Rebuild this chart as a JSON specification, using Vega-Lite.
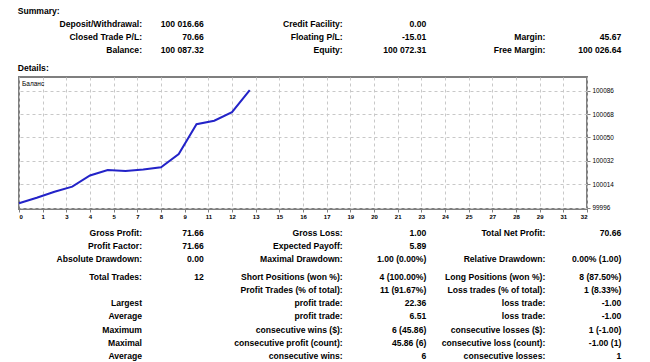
{
  "$schema": "https://vega.github.io/schema/vega-lite/v6.json",
  "padding": {"left": 14, "top": 0, "right": 0, "bottom": 0},
  "background": "white",
  "spacing": 0,
  "bounds": "flush",
  "config": {"view": {"stroke": null}, "font": "Liberation Sans"},
  "resolve": {"scale": {"x": "independent", "y": "independent"}},
  "datasets": {
    "summary": [
      {"row": 0, "col": -1, "text": "Summary:"},
      {"row": 1, "col": 0, "text": "Deposit/Withdrawal:"},
      {"row": 1, "col": 1, "text": "100 016.66"},
      {"row": 1, "col": 2, "text": "Credit Facility:"},
      {"row": 1, "col": 3, "text": "0.00"},
      {"row": 2, "col": 0, "text": "Closed Trade P/L:"},
      {"row": 2, "col": 1, "text": "70.66"},
      {"row": 2, "col": 2, "text": "Floating P/L:"},
      {"row": 2, "col": 3, "text": "-15.01"},
      {"row": 2, "col": 4, "text": "Margin:"},
      {"row": 2, "col": 5, "text": "45.67"},
      {"row": 3, "col": 0, "text": "Balance:"},
      {"row": 3, "col": 1, "text": "100 087.32"},
      {"row": 3, "col": 2, "text": "Equity:"},
      {"row": 3, "col": 3, "text": "100 072.31"},
      {"row": 3, "col": 4, "text": "Free Margin:"},
      {"row": 3, "col": 5, "text": "100 026.64"},
      {"row": 4, "col": -1, "text": "Details:"}
    ],
    "details": [
      {"row": 1, "col": 0, "text": "Gross Profit:"},
      {"row": 1, "col": 1, "text": "71.66"},
      {"row": 1, "col": 2, "text": "Gross Loss:"},
      {"row": 1, "col": 3, "text": "1.00"},
      {"row": 1, "col": 4, "text": "Total Net Profit:"},
      {"row": 1, "col": 5, "text": "70.66"},
      {"row": 2, "col": 0, "text": "Profit Factor:"},
      {"row": 2, "col": 1, "text": "71.66"},
      {"row": 2, "col": 2, "text": "Expected Payoff:"},
      {"row": 2, "col": 3, "text": "5.89"},
      {"row": 3, "col": 0, "text": "Absolute Drawdown:"},
      {"row": 3, "col": 1, "text": "0.00"},
      {"row": 3, "col": 2, "text": "Maximal Drawdown:"},
      {"row": 3, "col": 3, "text": "1.00 (0.00%)"},
      {"row": 3, "col": 4, "text": "Relative Drawdown:"},
      {"row": 3, "col": 5, "text": "0.00% (1.00)"},
      {"row": 4, "col": 0, "text": "Total Trades:"},
      {"row": 4, "col": 1, "text": "12"},
      {"row": 4, "col": 2, "text": "Short Positions (won %):"},
      {"row": 4, "col": 3, "text": "4 (100.00%)"},
      {"row": 4, "col": 4, "text": "Long Positions (won %):"},
      {"row": 4, "col": 5, "text": "8 (87.50%)"},
      {"row": 5, "col": 2, "text": "Profit Trades (% of total):"},
      {"row": 5, "col": 3, "text": "11 (91.67%)"},
      {"row": 5, "col": 4, "text": "Loss trades (% of total):"},
      {"row": 5, "col": 5, "text": "1 (8.33%)"},
      {"row": 6, "col": 0, "text": "Largest"},
      {"row": 6, "col": 2, "text": "profit trade:"},
      {"row": 6, "col": 3, "text": "22.36"},
      {"row": 6, "col": 4, "text": "loss trade:"},
      {"row": 6, "col": 5, "text": "-1.00"},
      {"row": 7, "col": 0, "text": "Average"},
      {"row": 7, "col": 2, "text": "profit trade:"},
      {"row": 7, "col": 3, "text": "6.51"},
      {"row": 7, "col": 4, "text": "loss trade:"},
      {"row": 7, "col": 5, "text": "-1.00"},
      {"row": 8, "col": 0, "text": "Maximum"},
      {"row": 8, "col": 2, "text": "consecutive wins ($):"},
      {"row": 8, "col": 3, "text": "6 (45.86)"},
      {"row": 8, "col": 4, "text": "consecutive losses ($):"},
      {"row": 8, "col": 5, "text": "1 (-1.00)"},
      {"row": 9, "col": 0, "text": "Maximal"},
      {"row": 9, "col": 2, "text": "consecutive profit (count):"},
      {"row": 9, "col": 3, "text": "45.86 (6)"},
      {"row": 9, "col": 4, "text": "consecutive loss (count):"},
      {"row": 9, "col": 5, "text": "-1.00 (1)"},
      {"row": 10, "col": 0, "text": "Average"},
      {"row": 10, "col": 2, "text": "consecutive wins:"},
      {"row": 10, "col": 3, "text": "6"},
      {"row": 10, "col": 4, "text": "consecutive losses:"},
      {"row": 10, "col": 5, "text": "1"}
    ],
    "balance": [
      {"trade": 0, "balance": 99999.4},
      {"trade": 1, "balance": 100003.6},
      {"trade": 2, "balance": 100008.3},
      {"trade": 3, "balance": 100012.2},
      {"trade": 4, "balance": 100020.8},
      {"trade": 5, "balance": 100025.0},
      {"trade": 6, "balance": 100024.3},
      {"trade": 7, "balance": 100025.4},
      {"trade": 8, "balance": 100027.1},
      {"trade": 9, "balance": 100037.3},
      {"trade": 10, "balance": 100060.2},
      {"trade": 11, "balance": 100062.9},
      {"trade": 12, "balance": 100069.4},
      {"trade": 13, "balance": 100086.5}
    ]
  },
  "vconcat": [
    {
      "width": 636,
      "height": 77,
      "data": {"name": "summary"},
      "encoding": {
        "x": {"field": "col", "type": "quantitative", "axis": null,
              "scale": {"domain": [-1, 0, 1, 2, 3, 4, 5], "range": [-1.3, 123, 184.7, 323.7, 407.3, 526.3, 602.3]}},
        "y": {"field": "row", "type": "quantitative", "axis": null,
              "scale": {"domain": [0, 1, 3, 4], "range": [11, 23.7, 50, 67.5]}},
        "text": {"field": "text"}
      },
      "layer": [
        {"transform": [{"filter": "datum.col < 0"}],
         "mark": {"type": "text", "align": "left", "baseline": "middle", "fontWeight": "bold", "fontSize": 8.6, "font": "Liberation Sans", "color": "#000000"}},
        {"transform": [{"filter": "datum.col >= 0"}],
         "mark": {"type": "text", "align": "right", "baseline": "middle", "fontWeight": "bold", "fontSize": 8.6, "font": "Liberation Sans", "color": "#000000"}}
      ]
    },
    {
      "width": 568,
      "height": 132,
      "data": {"name": "balance"},
      "view": {"stroke": "#7f7f7f", "strokeWidth": 2},
      "title": {"text": "Баланс", "anchor": "start", "orient": "top", "frame": "group", "offset": -10, "dx": 3, "fontSize": 6.5, "fontWeight": "normal", "font": "Liberation Sans", "color": "#000000"},
      "mark": {"type": "line", "color": "#2323c8", "strokeWidth": 2},
      "encoding": {
        "x": {"field": "trade", "type": "quantitative",
              "scale": {"domain": [0, 32], "nice": false, "zero": false},
              "axis": {"values": [0, 1.3333, 2.6667, 4, 5.3333, 6.6667, 8, 9.3333, 10.6667, 12, 13.3333, 14.6667, 16, 17.3333, 18.6667, 20, 21.3333, 22.6667, 24, 25.3333, 26.6667, 28, 29.3333, 30.6667, 32],
                       "format": ".0f", "title": null, "grid": true, "gridColor": "#c8c8c8", "gridDash": [3, 3], "gridWidth": 1,
                       "domain": false, "ticks": true, "tickSize": 3, "tickColor": "#808080",
                       "labelFont": "Liberation Sans", "labelFontSize": 6, "labelFontWeight": "bold", "labelColor": "#000000",
                       "labelFlush": true, "labelPadding": 1, "labelOverlap": false}},
        "y": {"field": "balance", "type": "quantitative",
              "scale": {"domain": [99995, 100096.5], "nice": false, "zero": false},
              "axis": {"orient": "right", "values": [99996, 100014, 100032, 100050, 100068, 100086],
                       "format": "d", "title": null, "grid": true, "gridColor": "#c8c8c8", "gridDash": [3, 3], "gridWidth": 1,
                       "domain": false, "ticks": true, "tickSize": 3, "tickColor": "#808080",
                       "labelFont": "Liberation Sans", "labelFontSize": 6.4, "labelColor": "#000000",
                       "labelPadding": 2, "labelOverlap": false, "labelFlush": false}}
      }
    },
    {
      "width": 636,
      "height": 153,
      "data": {"name": "details"},
      "encoding": {
        "x": {"field": "col", "type": "quantitative", "axis": null,
              "scale": {"domain": [-1, 0, 1, 2, 3, 4, 5], "range": [-1.3, 123, 184.7, 323.7, 407.3, 526.3, 602.3]}},
        "y": {"field": "row", "type": "quantitative", "axis": null,
              "scale": {"domain": [1, 3, 4, 10], "range": [23.6, 49.6, 68, 146.8]}},
        "text": {"field": "text"}
      },
      "mark": {"type": "text", "align": "right", "baseline": "middle", "fontWeight": "bold", "fontSize": 8.6, "font": "Liberation Sans", "color": "#000000"}
    }
  ]
}
